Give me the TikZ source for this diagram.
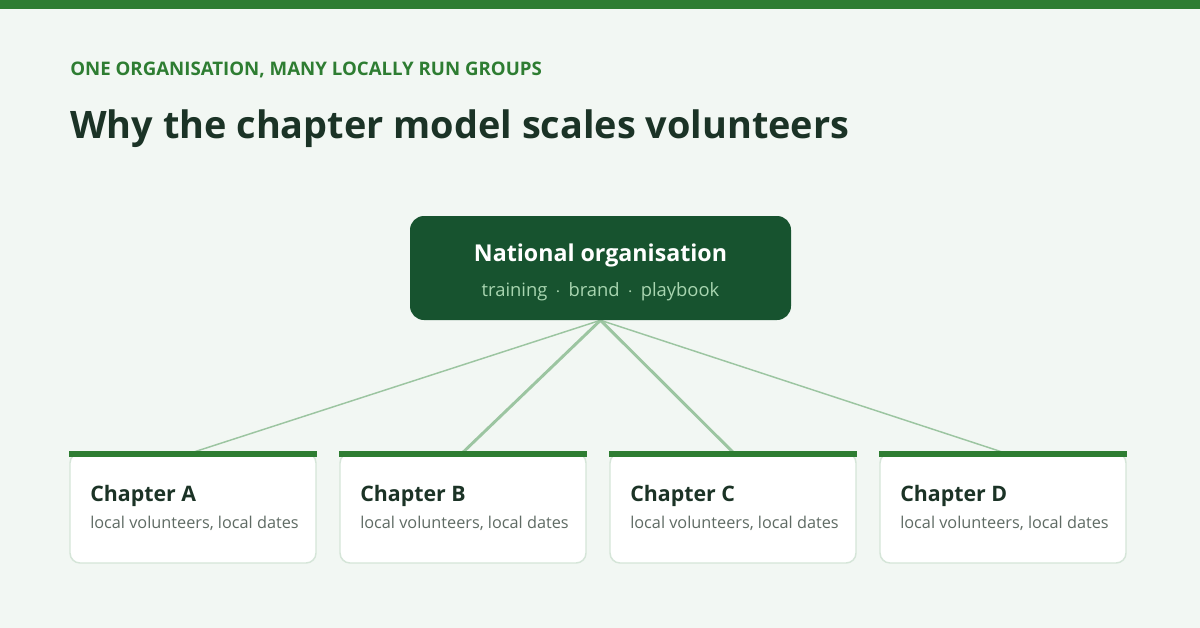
\documentclass[tikz,border=0pt]{standalone}
\usepackage{fontspec}
\setmainfont{Open Sans}
\usetikzlibrary{positioning,backgrounds}
\definecolor{paper}{HTML}{F2F7F3}
\definecolor{forest}{HTML}{2E7D32}
\definecolor{pine}{HTML}{17532F}
\definecolor{ink}{HTML}{1B3326}
\definecolor{sage}{HTML}{9CC5A1}
\definecolor{mint}{HTML}{A8D5B0}
\definecolor{slate}{HTML}{5F6B64}
\definecolor{rim}{HTML}{D5E5D8}
\tikzset{
  kicker/.style={anchor=base west,inner sep=0pt,text=forest,font=\fontsize{14}{16}\selectfont\bfseries},
  headline/.style={anchor=base west,inner sep=0pt,text=ink,font=\fontsize{28.4}{34}\selectfont\bfseries},
  hub/.style={fill=pine,rounded corners=10.5pt,minimum width=285.75pt,minimum height=78pt,inner sep=0pt},
  hub title/.style={anchor=base,inner sep=0pt,text=white,font=\fontsize{17.4}{21}\selectfont\bfseries},
  hub tag/.style={anchor=base,inner sep=0pt,text=mint,font=\fontsize{13.8}{16}\selectfont},
  card/.style={fill=white,draw=rim,line width=1.1pt,rounded corners=7.5pt,
    minimum width=184.5pt,minimum height=82.5pt,inner sep=0pt},
  card title/.style={anchor=base west,inner sep=0pt,text=ink,font=\fontsize{16}{19}\selectfont\bfseries},
  card note/.style={anchor=base west,inner sep=0pt,text=slate,font=\fontsize{12.2}{15}\selectfont},
  spoke/.style={draw=sage,line width=#1},
  spoke/.default=1.1pt,
}

\begin{document}
\begin{tikzpicture}[x=0.75pt,y=-0.75pt]
  \useasboundingbox (0,0) rectangle (1200,628);

  \node[kicker] (kick) at (70,75) {ONE ORGANISATION, MANY LOCALLY RUN GROUPS};
  \node[headline] (head) at (70,138) {Why the chapter model scales volunteers};

  % national body
  \node[hub] (hub) at (600.5,268) {};
  \node[hub title] (hubname) at (600.5,261) {National organisation};
  \node[hub tag] (hubtag) at (600.5,296) {training \,$\cdot$\, brand \,$\cdot$\, playbook};

  % local chapters
  \foreach \c/\x in {A/193,B/463,C/733,D/1003} {
    \node[card] (ch\c) at (\x,508) {};
    \fill[forest] ([yshift=0.75pt]ch\c.north west) rectangle ([yshift=-3.75pt]ch\c.north east);
    \node[card title] (name\c) at (\x-103,501) {Chapter \c};
    \node[card note] (note\c) at (\x-103,528) {local volunteers, local dates};
  }

  \begin{scope}[on background layer]
    \fill[paper] (0,0) rectangle (1200,628);
    \fill[forest] (0,0) rectangle (1200,9);
    \draw[spoke] (hub.south) -- (chA.north);
    \draw[spoke=2.2pt] (hub.south) -- (chB.north);
    \draw[spoke=2.2pt] (hub.south) -- (chC.north);
    \draw[spoke] (hub.south) -- (chD.north);
  \end{scope}
\end{tikzpicture}
\end{document}
